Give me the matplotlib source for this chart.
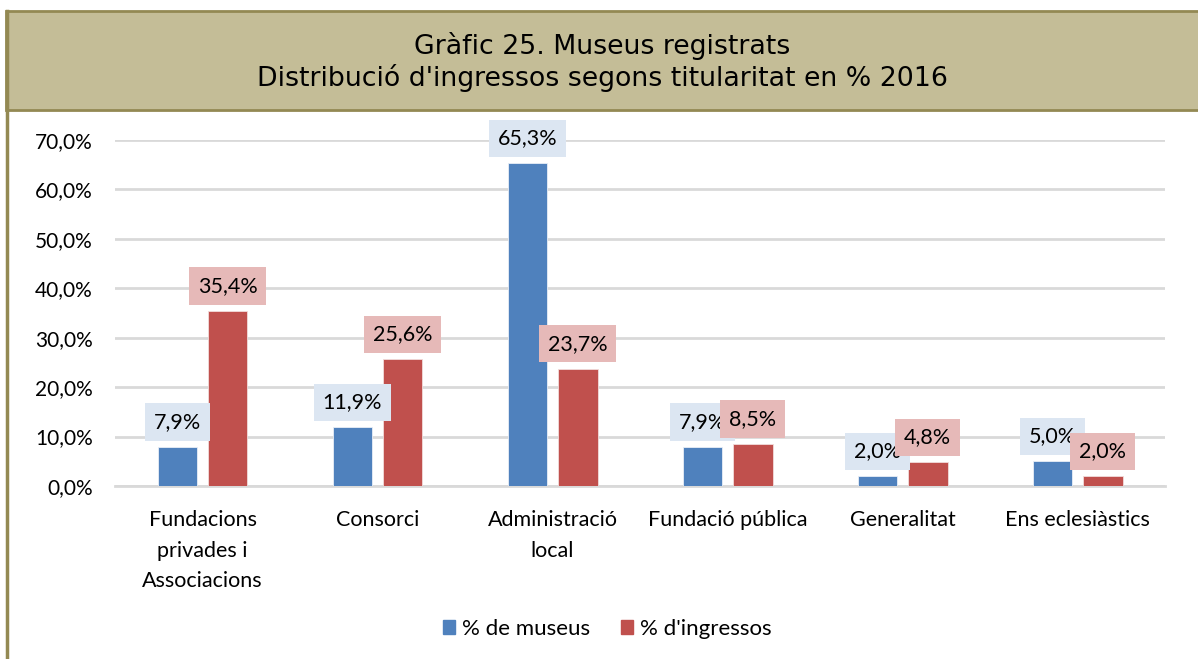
import numpy as np
import matplotlib
matplotlib.use('Agg')
import matplotlib.pyplot as plt
from matplotlib.patches import Rectangle
from matplotlib.lines import Line2D

# Data
categories = ['Fundacions\nprivades i\nAssociacions', 'Consorci', 'Administració\nlocal',
              'Fundació pública', 'Generalitat', 'Ens eclesiàstics']
museus = [7.9, 11.9, 65.3, 7.9, 2.0, 5.0]
ingressos = [35.4, 25.6, 23.7, 8.5, 4.8, 2.0]
series_names = ['% de museus', "% d'ingressos"]
yticks = [0, 10, 20, 30, 40, 50, 60, 70]

blue = '#4F81BD'
red = '#C0504D'
blue_box = '#DCE6F2'
red_box = '#E6B9B8'
olive = '#938953'
plt.rcParams['font.family'] = ['Lato', 'DejaVu Sans']

fig = plt.figure(figsize=(11.98, 6.59), dpi=100)
ax = fig.add_axes([0.096, 0.2625, 0.8765, 0.5251])

x = np.arange(len(categories))
w = 0.228
off = 0.143
ax.bar(x - off, museus, w, color=blue, edgecolor='#E8EEF7', linewidth=0.6, zorder=3)
ax.bar(x + off, ingressos, w, color=red, edgecolor='#F2DCDB', linewidth=0.6, zorder=3)

def fmt(v):
    return f'{v:.1f}%'.replace('.', ',')

for xi, v in zip(x - off, museus):
    ax.annotate(fmt(v), (xi, v), xytext=(0, 18), textcoords='offset points',
                ha='center', va='center', fontsize=15.5, zorder=5,
                bbox=dict(boxstyle='square,pad=0.4', fc=blue_box, ec='none'))
for xi, v in zip(x + off, ingressos):
    ax.annotate(fmt(v), (xi, v), xytext=(0, 18), textcoords='offset points',
                ha='center', va='center', fontsize=15.5, zorder=6,
                bbox=dict(boxstyle='square,pad=0.4', fc=red_box, ec='none'))

ax.set_xlim(-0.5, len(categories) - 0.5)
ax.set_ylim(0, 70)
ax.set_yticks(yticks)
ax.set_yticklabels([fmt(t) for t in yticks], fontsize=15)
ax.set_xticks(x)
ax.set_xticklabels(categories, fontsize=15.5, linespacing=1.68, va='top')
ax.tick_params(axis='both', length=0)
ax.tick_params(axis='y', pad=16)
ax.tick_params(axis='x', pad=17)
ax.grid(axis='y', color='#D9D9D9', linewidth=2, zorder=0)
for s in ['top', 'right', 'left']:
    ax.spines[s].set_visible(False)
ax.spines['bottom'].set_color('#D9D9D9')
ax.spines['bottom'].set_linewidth(2)
ax.set_axisbelow(True)

# Title band and frame
fig.patches.append(Rectangle((6 / 1198, 1 - 110 / 659), 1.0, 99 / 659,
                             transform=fig.transFigure, facecolor='#C4BD97',
                             edgecolor=olive, linewidth=2, zorder=0))
fig.lines.append(Line2D([6.5 / 1198, 6.5 / 1198], [0, 1 - 11 / 659],
                        transform=fig.transFigure, color=olive, linewidth=2.5))
fig.text(0.503, 1 - 46 / 659, 'Gràfic 25. Museus registrats', ha='center', va='center',
         fontsize=19.3, family='DejaVu Sans')
fig.text(0.503, 1 - 78 / 659, "Distribució d'ingressos segons titularitat en % 2016",
         ha='center', va='center', fontsize=19.3, family='DejaVu Sans')

handles = [Rectangle((0, 0), 1, 1, color=blue), Rectangle((0, 0), 1, 1, color=red)]
fig.legend(handles, series_names, loc='center', bbox_to_anchor=(0.507, 0.046), ncol=2,
           frameon=False, fontsize=16, handlelength=0.55, handleheight=0.55,
           handletextpad=0.3, columnspacing=1.4)

fig.savefig('out.png', dpi=100)
